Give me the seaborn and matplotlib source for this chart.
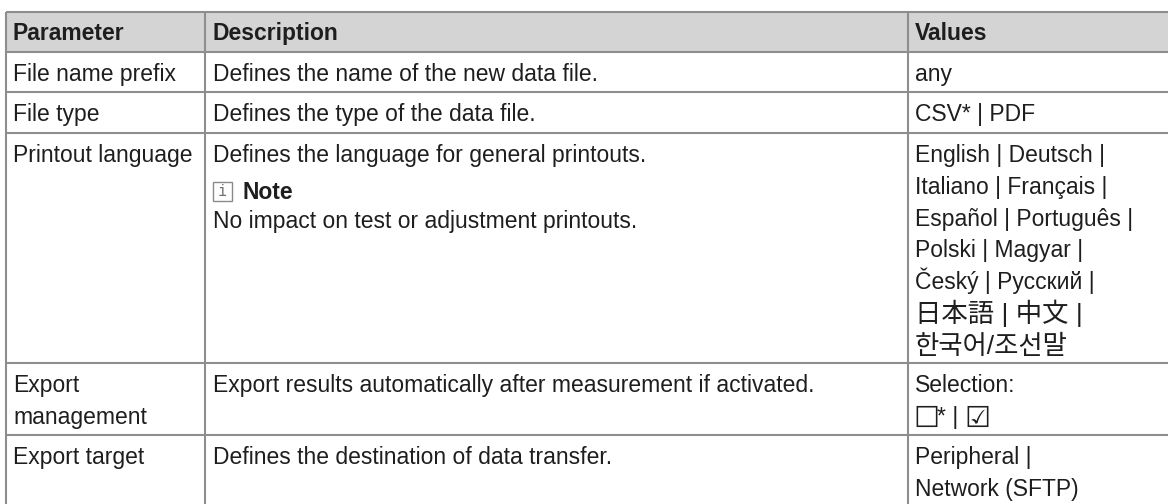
import matplotlib
matplotlib.use("Agg")
import matplotlib.pyplot as plt
from matplotlib.patches import Rectangle
import seaborn as sns

# ---------------- data ----------------
headers = ["Parameter", "Description", "Values"]

parameters = [
    ["File name prefix"],
    ["File type"],
    ["Printout language"],
    ["Export", "management"],
    ["Export target"],
]

descriptions = [
    ["Defines the name of the new data file."],
    ["Defines the type of the data file."],
    ["Defines the language for general printouts."],
    ["Export results automatically after measurement if activated."],
    ["Defines the destination of data transfer."],
]

note_title = "Note"
note_text = "No impact on test or adjustment printouts."

values = [
    ["any"],
    ["CSV* | PDF"],
    ["English | Deutsch |", "Italiano | Français |", "Español | Português |",
     "Polski | Magyar |", "Český | Русский |", "日本語 | 中文 |", "한국어/조선말"],
    ["Selection:", None],
    ["Peripheral |", "Network (SFTP)"],
]
checkbox_parts = ["\u2610", "*", " | ", "\u2611"]

# ---------------- layout ----------------
W, H = 1168, 504
row_edges = [12, 52, 92, 133, 363, 435, 504]
col_edges = [6, 205, 908, 1168]
text_pad = [7, 8, 7]
first_line = 21.5
line_step = 31.7
cap_half = 7.8

sns.set_theme(style="white")
plt.rcParams["font.family"] = ["Liberation Sans", "Noto Sans CJK JP", "Noto Sans CJK KR", "DejaVu Sans"]
FS = 16.5
FS_CJK = 19
TXT = "#1e1e1e"
LINE = "#8e8e8e"
HEAD_BG = "#d4d4d4"

fig = plt.figure(figsize=(W / 100, H / 100), dpi=100)
ax = fig.add_axes([0, 0, 1, 1])
ax.set_xlim(0, W)
ax.set_ylim(H, 0)
ax.axis("off")
sns.despine(ax=ax, left=True, bottom=True)

# header background
ax.add_patch(Rectangle((col_edges[0], row_edges[0]), col_edges[-1] - col_edges[0],
                       row_edges[1] - row_edges[0], facecolor=HEAD_BG, edgecolor="none", zorder=0))

# grid lines
for y in row_edges[:-1]:
    ax.plot([col_edges[0], col_edges[-1]], [y, y], color=LINE, lw=1.5, zorder=2,
            solid_capstyle="butt")
for x in col_edges[:-1]:
    ax.plot([x, x], [row_edges[0], row_edges[-1]], color=LINE, lw=1.5, zorder=2,
            solid_capstyle="butt")


def is_cjk(s):
    return any(ord(ch) >= 0x3000 for ch in s)


def put(col, y_center, s, bold=False, **kw):
    cjk = is_cjk(s)
    return ax.text(col_edges[col] + text_pad[col], y_center + cap_half + (1.5 if cjk else 0), s,
                   fontsize=FS_CJK if cjk else FS,
                   fontweight="bold" if bold else "normal", color=TXT, va="baseline",
                   ha="left", zorder=3, **kw)


# header text
for c, h in enumerate(headers):
    put(c, (row_edges[0] + row_edges[1]) / 2, h, bold=True)

checkbox_y = None
# body
for r in range(len(parameters)):
    top = row_edges[r + 1]
    for i, s in enumerate(parameters[r]):
        put(0, top + first_line + i * line_step, s)
    for i, s in enumerate(descriptions[r]):
        put(1, top + first_line + i * line_step, s)
    for i, s in enumerate(values[r]):
        if s is None:
            checkbox_y = top + first_line + i * line_step
        else:
            put(2, top + first_line + i * line_step, s)

# checkbox line, drawn piece by piece so the boxes can be larger
fig.canvas.draw()
renderer = fig.canvas.get_renderer()
x = col_edges[2] + text_pad[2] - 2
inv = ax.transData.inverted()
for part in checkbox_parts:
    is_box = part in ("\u2610", "\u2611")
    t = ax.text(x, checkbox_y + cap_half + (2.5 if is_box else 0), part,
                fontsize=21 if is_box else FS, color=TXT, va="baseline", ha="left",
                zorder=3, family=["DejaVu Sans"] if is_box else None)
    bb = t.get_window_extent(renderer)
    x0 = inv.transform((bb.x0, bb.y0))[0]
    x1 = inv.transform((bb.x1, bb.y0))[0]
    x = x + (x1 - x0) - (2 if is_box else 0)

# note block inside printout language row
top = row_edges[3]
note_y = top + first_line + 37
ix = col_edges[1] + text_pad[1]
ax.add_patch(Rectangle((ix, note_y - 9.5), 19, 19, facecolor="white",
                       edgecolor="#8a8a8a", lw=1.0, zorder=3))
ax.text(ix + 9.5, note_y + 0.5, "i", fontsize=11, color="#707070", ha="center",
        va="center", zorder=4, family=["DejaVu Sans Mono"])
ax.text(ix + 30, note_y + cap_half, note_title, fontsize=FS, fontweight="bold",
        color=TXT, va="baseline", ha="left", zorder=3)
put(1, note_y + 29, note_text)

fig.savefig("out.png", dpi=100, facecolor="white")
